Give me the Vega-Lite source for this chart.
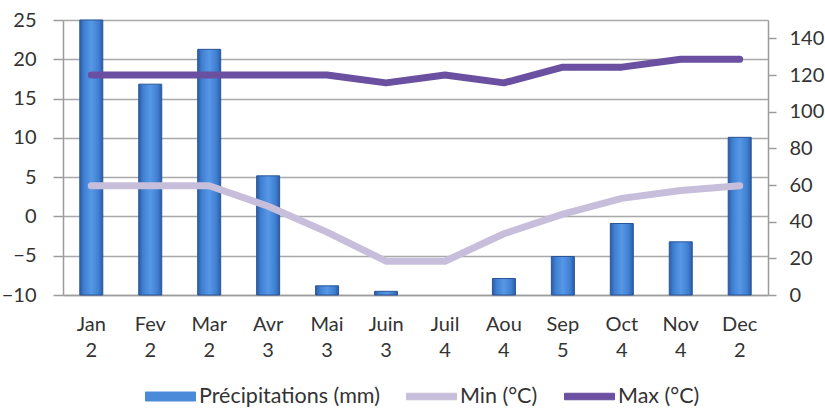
{
  "$schema": "https://vega.github.io/schema/vega-lite/v6.json",
  "autosize": {"type": "none"},
  "width": 705,
  "height": 275,
  "padding": {"left": 63, "top": 20, "right": 57, "bottom": 121},
  "background": "#ffffff",
  "config": {
    "font": "Lato",
    "view": {"stroke": null},
    "axis": {
      "labelFont": "Lato",
      "labelFontSize": 20,
      "labelColor": "#333333",
      "domainColor": "#9c9c9c",
      "domainWidth": 1.5,
      "tickColor": "#9c9c9c",
      "tickWidth": 1.5,
      "gridColor": "#a9a9a9",
      "gridWidth": 1.5,
      "title": null
    }
  },
  "data": {
    "values": [
      {"mois": "Jan", "indice": 2, "precip": 150, "tmin": 3.9, "tmax": 18},
      {"mois": "Fev", "indice": 2, "precip": 115, "tmin": 3.9, "tmax": 18},
      {"mois": "Mar", "indice": 2, "precip": 134, "tmin": 3.9, "tmax": 18},
      {"mois": "Avr", "indice": 3, "precip": 65, "tmin": 1.3, "tmax": 18},
      {"mois": "Mai", "indice": 3, "precip": 5, "tmin": -2, "tmax": 18},
      {"mois": "Juin", "indice": 3, "precip": 2, "tmin": -5.7, "tmax": 17},
      {"mois": "Juil", "indice": 4, "precip": 0, "tmin": -5.7, "tmax": 18},
      {"mois": "Aou", "indice": 4, "precip": 9, "tmin": -2.2, "tmax": 17},
      {"mois": "Sep", "indice": 5, "precip": 21, "tmin": 0.3, "tmax": 19},
      {"mois": "Oct", "indice": 4, "precip": 39, "tmin": 2.3, "tmax": 19},
      {"mois": "Nov", "indice": 4, "precip": 29, "tmin": 3.3, "tmax": 20},
      {"mois": "Dec", "indice": 2, "precip": 86, "tmin": 3.9, "tmax": 20}
    ]
  },
  "transform": [
    {"calculate": "datum.mois + '|' + datum.indice", "as": "cle"}
  ],
  "encoding": {
    "x": {
      "field": "cle",
      "type": "nominal",
      "sort": null,
      "scale": {"paddingInner": 0.61, "paddingOuter": 0.285},
      "axis": {
        "labelExpr": "split(datum.label, '|')",
        "labelAngle": 0,
        "labelPadding": 19,
        "labelLineHeight": 26,
        "ticks": false,
        "grid": false,
        "domain": true
      }
    }
  },
  "layer": [
    {
      "mark": {
        "type": "bar",
        "fill": {
          "x1": 0, "x2": 1, "y1": 0, "y2": 0,
          "gradient": "linear",
          "stops": [
            {"offset": 0, "color": "#2c5ca6"},
            {"offset": 0.18, "color": "#3f7fd2"},
            {"offset": 0.5, "color": "#5698e6"},
            {"offset": 0.82, "color": "#3f7fd2"},
            {"offset": 1, "color": "#2c5ca6"}
          ]
        },
        "stroke": "#2a5597",
        "strokeWidth": 1
      },
      "encoding": {
        "y": {
          "field": "precip",
          "type": "quantitative",
          "scale": {"domain": [0, 150], "nice": false, "zero": true},
          "axis": {
            "orient": "right",
            "values": [0, 20, 40, 60, 80, 100, 120, 140],
            "grid": false,
            "tickSize": 8,
            "labelPadding": 13
          }
        },
        "strokeOpacity": {
          "condition": {"test": "datum.precip <= 0", "value": 0},
          "value": 1
        }
      }
    },
    {
      "layer": [
        {
          "mark": {"type": "line", "strokeWidth": 7, "strokeCap": "round", "strokeJoin": "round"},
          "encoding": {
            "y": {"field": "tmin", "type": "quantitative"},
            "color": {"datum": "Min (°C)"}
          }
        },
        {
          "mark": {"type": "line", "strokeWidth": 7, "strokeCap": "round", "strokeJoin": "round"},
          "encoding": {
            "y": {"field": "tmax", "type": "quantitative"},
            "color": {"datum": "Max (°C)"}
          }
        }
      ],
      "encoding": {
        "y": {
          "type": "quantitative",
          "scale": {"domain": [-10, 25], "nice": false, "zero": false},
          "axis": {
            "orient": "left",
            "values": [-10, -5, 0, 5, 10, 15, 20, 25],
            "grid": true,
            "tickSize": 10,
            "labelPadding": 17
          }
        },
        "color": {
          "type": "nominal",
          "scale": {
            "domain": ["Précipitations (mm)", "Min (°C)", "Max (°C)"],
            "range": ["#4a8ad8", "#c7bedb", "#6b4fa0"]
          },
          "legend": {
            "orient": "none",
            "legendX": 82,
            "legendY": 351,
            "direction": "horizontal",
            "title": null,
            "padding": 0,
            "symbolSize": 2500,
            "labelFont": "Lato",
            "labelFontSize": 21.5,
            "labelColor": "#333333",
            "labelOffset": 3,
            "columnPadding": 24,
            "labelLimit": 300,
            "encode": {
              "symbols": {
                "update": {
                  "shape": {"signal": "datum.value === 'Précipitations (mm)' ? 'M-1,-0.18H1V0.18H-1Z' : 'M-1,-0.13H1V0.13H-1Z'"},
                  "fill": {"scale": "color", "field": "value"},
                  "stroke": {"signal": "datum.value === 'Précipitations (mm)' ? '#2a5597' : 'transparent'"},
                  "strokeWidth": {"value": 1},
                  "opacity": {"value": 1}
                }
              }
            }
          }
        }
      }
    }
  ],
  "resolve": {"scale": {"y": "independent"}}
}
